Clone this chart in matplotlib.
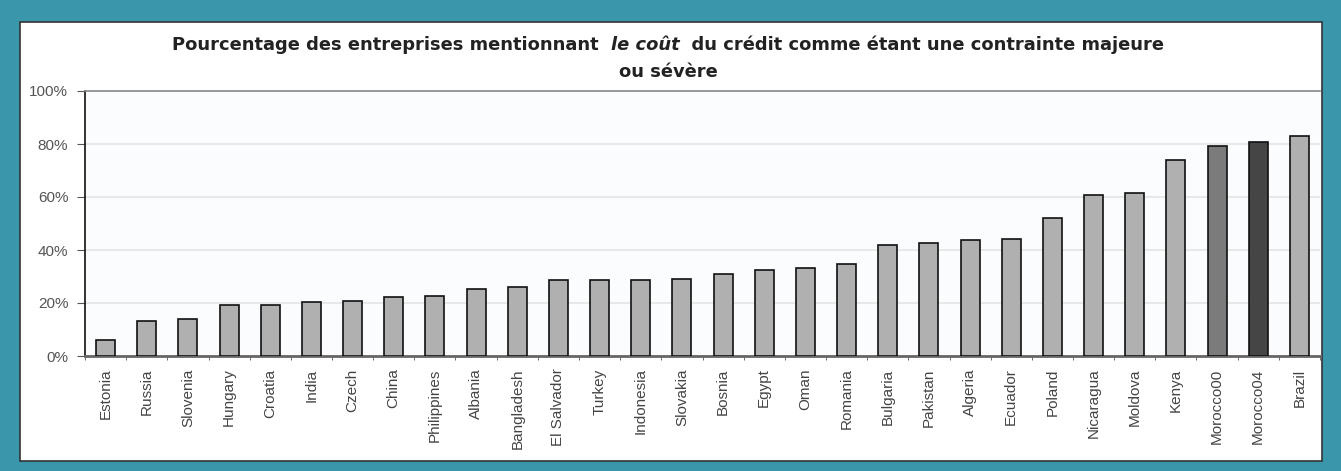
import matplotlib
matplotlib.use("Agg")
import matplotlib.pyplot as plt
import matplotlib.patches as patches
from matplotlib.ticker import FuncFormatter
import numpy as np

countries = ["Estonia", "Russia", "Slovenia", "Hungary", "Croatia", "India", "Czech",
             "China", "Philippines", "Albania", "Bangladesh", "El Salvador", "Turkey",
             "Indonesia", "Slovakia", "Bosnia", "Egypt", "Oman", "Romania", "Bulgaria",
             "Pakistan", "Algeria", "Ecuador", "Poland", "Nicaragua", "Moldova", "Kenya",
             "Morocco00", "Morocco04", "Brazil"]
values = [5.9, 13.2, 13.8, 19.2, 19.2, 20.5, 20.8, 22.2, 22.6, 25.1, 26.1, 28.5, 28.5,
          28.5, 29.1, 31.1, 32.4, 33.1, 34.8, 41.8, 42.5, 43.7, 44.3, 51.9, 60.9, 61.6,
          73.8, 79.4, 80.8, 82.9]
yticks = [0, 20, 40, 60, 80, 100]

teal = "#3a96aa"
bar_colors = ["#b0b0b0"] * len(countries)
bar_colors[countries.index("Morocco00")] = "#7b7b7b"
bar_colors[countries.index("Morocco04")] = "#454545"

W, H = 1341, 471
fig = plt.figure(figsize=(W / 100, H / 100), dpi=100, facecolor=teal)

# panneau blanc avec bord sombre
fig.patches.append(patches.Rectangle((20 / W, 1 - 461 / H), 1302 / W, 439 / H,
                                     transform=fig.transFigure, facecolor="white",
                                     edgecolor="#333333", linewidth=1.2, zorder=-1))

ax = fig.add_axes([85 / W, 1 - 356 / H, (1320 - 85) / W, (356 - 91) / H])
ax.set_zorder(1)
ax.set_facecolor("#fbfcfd")

x = np.arange(len(countries))
ax.bar(x, values, width=0.46, color=bar_colors, edgecolor="#111111", linewidth=1.2, zorder=3)

ax.set_xlim(-0.5, len(countries) - 0.5)
ax.set_ylim(0, 100)
ax.set_yticks(yticks)
ax.yaxis.set_major_formatter(FuncFormatter(lambda v, p: "%d%%" % v))
ax.grid(axis="y", color="#e4e4e4", linewidth=1.2, zorder=0)

ax.set_xticks(x)
ax.set_xticklabels(countries, rotation=90, fontsize=11, color="#444444",
                   family="Liberation Sans")
ax.set_xticks(np.arange(-0.5, len(countries), 1), minor=True)
ax.tick_params(axis="x", which="major", length=0, pad=9)
ax.tick_params(axis="x", which="minor", length=3, color="#555555", direction="out")
ax.tick_params(axis="y", length=6, color="#555555", labelsize=11, labelcolor="#555555", pad=6)
for lab in ax.get_yticklabels():
    lab.set_family("Liberation Sans")

ax.spines["left"].set_color("#111111")
ax.spines["left"].set_linewidth(1.2)
ax.spines["bottom"].set_color("#666666")
ax.spines["bottom"].set_linewidth(2)
ax.spines["top"].set_color("#888888")
ax.spines["top"].set_linewidth(1.2)
ax.spines["right"].set_visible(False)

# titre en trois morceaux (partie en italique)
parts = [("Pourcentage des entreprises mentionnant  ", "normal"),
         ("le coût", "italic"),
         ("  du crédit comme étant une contrainte majeure", "normal")]
fig.canvas.draw()
r = fig.canvas.get_renderer()
tx = []
for s, st in parts:
    t = fig.text(0, 1 - 45 / H, s, fontsize=12.9, fontweight="bold", style=st,
                 family="DejaVu Sans", color="#222222", va="center", ha="left")
    tx.append(t)
widths = [t.get_window_extent(r).width for t in tx]
x0 = 668 - sum(widths) / 2
for t, w in zip(tx, widths):
    t.set_x(x0 / W)
    x0 += w
fig.text(668 / W, 1 - 72 / H, "ou sévère", fontsize=12.9, fontweight="bold",
         family="DejaVu Sans", color="#222222", va="center", ha="center")

fig.savefig("out.png", dpi=100, facecolor=teal)
